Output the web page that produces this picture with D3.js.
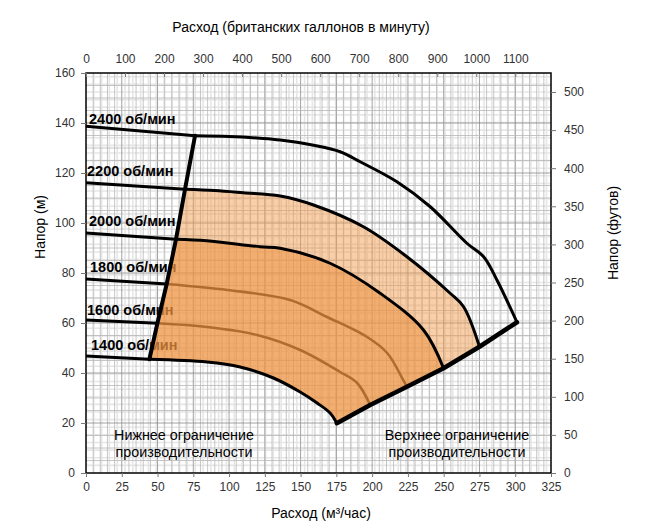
<!DOCTYPE html>
<html>
<head>
<meta charset="utf-8">
<script src="https://cdn.jsdelivr.net/npm/d3@7"></script>
<style>
  body { margin: 0; background: #fff; }
  svg text { font-family: "Liberation Sans", Arial, sans-serif; }
</style>
</head>
<body>
<div id="chart"></div>
<script>
// flow in m3/h, head in m
var flowTicks = [0, 25, 50, 75, 100, 125, 150, 175, 200, 225, 250, 275, 300, 325];
var headTicks = [0, 20, 40, 60, 80, 100, 120, 140, 160];
var gpmTicks = [0, 100, 200, 300, 400, 500, 600, 700, 800, 900, 1000, 1100];
var feetTicks = [0, 50, 100, 150, 200, 250, 300, 350, 400, 450, 500];

var speeds = ['2400 об/мин', '2200 об/мин', '2000 об/мин', '1800 об/мин', '1600 об/мин', '1400 об/мин'];

// part of each curve left of the lower limit
var left2400 = [[0, 138.7], [76.2, 134.9]];
var left2200 = [[0, 116.1], [69.2, 113.5]];
var left2000 = [[0, 96], [62.9, 93.5]];
var left1800 = [[0, 77.6], [56.4, 75.6]];
var left1600 = [[0, 61.2], [49.9, 59.9]];
var left1400 = [[0, 46.8], [44.3, 45.5]];

// working part of each curve
var rpm2400 = [[76.2, 134.9], [100, 134.6], [121.7, 133.9], [135.7, 133.2], [160, 131], [177.6, 128.5], [191.6, 124.5], [217.3, 116.5], [240.6, 106.5], [266.2, 91.9], [277.9, 86.5], [287.2, 77.2], [301.2, 60.3]];
var rpm2200 = [[69.2, 113.5], [90, 113], [110, 112.1], [135.7, 110.8], [159, 107.2], [193.9, 98.5], [224.3, 86.5], [254.5, 71.9], [263.9, 66.5], [275, 50.5]];
var rpm2000 = [[62.9, 93.5], [84.4, 92.9], [121.7, 90.5], [135.7, 89.9], [170.6, 83.9], [205.6, 71.9], [235.9, 57.2], [249.9, 41.9]];
var rpm1800 = [[56.4, 75.6], [99, 73.2], [142.7, 69.2], [168.5, 62.4], [196.5, 54.4], [210.5, 48], [221.7, 37.2], [224.3, 34.5]];
var rpm1600 = [[49.9, 59.9], [84.6, 58.4], [119.6, 55.2], [149.7, 49.2], [177.6, 40.4], [189.5, 36], [198.6, 27.2]];
var rpm1400 = [[44.3, 45.5], [84.6, 44.4], [107.7, 42.4], [131, 38], [149.7, 32.4], [161.5, 28], [170.6, 24], [175.3, 19.9]];

var lowerLimit = [[44.3, 45.5], [49.9, 59.9], [56.4, 75.6], [62.9, 93.5], [69.2, 113.5], [76.2, 134.9]];
var upperLimit = [[175.3, 19.9], [198.6, 27.2], [224.3, 34.5], [249.9, 41.9], [275, 50.5], [301.2, 60.3]];

var GPM_PER_M3H = 3.666, FT_PER_M = 3.2808;

var width = 648, height = 529;
var svg = d3.select('#chart').append('svg')
    .attr('width', width)
    .attr('height', height);

var x = d3.scaleLinear().domain([0, 325]).range([86, 551]);
var y = d3.scaleLinear().domain([0, 160]).range([473, 73]);
var xg = d3.scaleLinear().domain([0, 325 * GPM_PER_M3H]).range([86, 551]);
var yf = d3.scaleLinear().domain([0, 160 * FT_PER_M]).range([473, 73]);

// grid
var grid = svg.append('g');
d3.range(20, 325 * GPM_PER_M3H, 20).forEach(function(g) {
    grid.append('line').attr('x1', xg(g)).attr('x2', xg(g)).attr('y1', 73).attr('y2', 473)
        .attr('stroke', '#e6e6e6').attr('stroke-width', 1.6);
});
d3.range(10, 160 * FT_PER_M, 10).forEach(function(f) {
    grid.append('line').attr('y1', yf(f)).attr('y2', yf(f)).attr('x1', 86).attr('x2', 551)
        .attr('stroke', '#e6e6e6').attr('stroke-width', 1.6);
});
d3.range(5, 325, 5).forEach(function(q) {
    grid.append('line').attr('x1', x(q)).attr('x2', x(q)).attr('y1', 73).attr('y2', 473)
        .attr('stroke', q % 25 === 0 ? '#8a8a8a' : '#b8b8b8').attr('stroke-width', 0.8);
});
d3.range(5, 160, 5).forEach(function(h) {
    grid.append('line').attr('y1', y(h)).attr('y2', y(h)).attr('x1', 86).attr('x2', 551)
        .attr('stroke', h % 20 === 0 ? '#8a8a8a' : '#b8b8b8').attr('stroke-width', 0.8);
});

// speed labels (drawn under the fill)
var labelPos = [[89, 124], [87, 176], [89, 226], [90, 272], [87, 315], [91, 350]];
svg.append('g').selectAll('text')
    .data(speeds)
    .enter().append('text')
    .attr('x', function(d, i) { return labelPos[i][0]; })
    .attr('y', function(d, i) { return labelPos[i][1]; })
    .attr('font-size', 14.5)
    .attr('font-weight', 'bold')
    .text(function(d) { return d; });

var smooth = d3.line()
    .x(function(d) { return x(d[0]); })
    .y(function(d) { return y(d[1]); })
    .curve(d3.curveCatmullRom.alpha(0.5));
var straight = d3.line()
    .x(function(d) { return x(d[0]); })
    .y(function(d) { return y(d[1]); });

// inner curves, seen through the fill
[rpm1800, rpm1600].forEach(function(c) {
    svg.append('path').attr('d', smooth(c))
        .attr('fill', 'none').attr('stroke', '#000').attr('stroke-width', 2.6);
});

function joinPaths(parts) {
    return parts.map(function(p, i) { return i ? p.replace(/^M/, 'L') : p; }).join('') + 'Z';
}
function rev(a) { return a.slice().reverse(); }

// light zone between 2000 and 2200
svg.append('path')
    .attr('d', joinPaths([
        straight(lowerLimit.slice(3, 5)),
        smooth(rpm2200),
        straight(rev(upperLimit.slice(3, 5))),
        smooth(rev(rpm2000))
    ]))
    .attr('fill', '#f39a48').attr('fill-opacity', 0.47).attr('stroke', 'none');

// dark zone between 1400 and 2000
svg.append('path')
    .attr('d', joinPaths([
        straight(lowerLimit.slice(0, 4)),
        smooth(rpm2000),
        straight(rev(upperLimit.slice(0, 4))),
        smooth(rev(rpm1400))
    ]))
    .attr('fill', '#ee9040').attr('fill-opacity', 0.74).attr('stroke', 'none');

// bold curves
[rpm2400, rpm2200, rpm2000, rpm1400].forEach(function(c) {
    svg.append('path').attr('d', smooth(c))
        .attr('fill', 'none').attr('stroke', '#000').attr('stroke-width', 3)
        .attr('stroke-linejoin', 'round');
});
[left2400, left2200, left2000, left1800, left1600, left1400].forEach(function(c) {
    svg.append('path').attr('d', straight(c))
        .attr('fill', 'none').attr('stroke', '#000').attr('stroke-width', 2.8);
});
svg.append('path').attr('d', straight(lowerLimit))
    .attr('fill', 'none').attr('stroke', '#000').attr('stroke-width', 4)
    .attr('stroke-linecap', 'round');
svg.append('path').attr('d', straight(upperLimit))
    .attr('fill', 'none').attr('stroke', '#000').attr('stroke-width', 4.5)
    .attr('stroke-linecap', 'round').attr('stroke-linejoin', 'round');

// frame
svg.append('rect').attr('x', 86).attr('y', 73).attr('width', 465).attr('height', 400)
    .attr('fill', 'none').attr('stroke', '#000').attr('stroke-width', 1.5);

// axes
function styleAxis(g) {
    g.select('.domain').remove();
    g.selectAll('.tick line').attr('stroke', '#777');
    g.selectAll('.tick text').attr('fill', '#333').attr('font-size', 12)
        .attr('font-family', '"Liberation Sans", Arial, sans-serif');
}
svg.append('g').attr('transform', 'translate(0,473)')
    .call(d3.axisBottom(x).tickValues(flowTicks).tickSize(4).tickPadding(5))
    .call(styleAxis);
svg.append('g').attr('transform', 'translate(86,0)')
    .call(d3.axisLeft(y).tickValues(headTicks).tickSize(5).tickPadding(6))
    .call(styleAxis);
svg.append('g').attr('transform', 'translate(0,73)')
    .call(d3.axisTop(xg).tickValues(gpmTicks).tickFormat(d3.format('d')).tickSize(-4).tickPadding(10))
    .call(styleAxis);
svg.append('g').attr('transform', 'translate(551,0)')
    .call(d3.axisRight(yf).tickValues(feetTicks).tickSize(5).tickPadding(8))
    .call(styleAxis);
svg.selectAll('.tick line').attr('stroke-width', 1);

// titles
svg.append('text').attr('x', 301).attr('y', 32).attr('text-anchor', 'middle')
    .attr('font-size', 14).text('Расход (британских галлонов в минуту)');
svg.append('text').attr('x', 321).attr('y', 518).attr('text-anchor', 'middle')
    .attr('font-size', 14).text('Расход (м³/час)');
svg.append('text').attr('transform', 'translate(45,227) rotate(-90)').attr('text-anchor', 'middle')
    .attr('font-size', 14).text('Напор (м)');
svg.append('text').attr('transform', 'translate(618,233) rotate(-90)').attr('text-anchor', 'middle')
    .attr('font-size', 14).text('Напор (футов)');

// zone notes
var notes = [
    { x: 184, lines: ['Нижнее ограничение', 'производительности'] },
    { x: 457, lines: ['Верхнее ограничение', 'производительности'] }
];
notes.forEach(function(n) {
    var t = svg.append('text').attr('text-anchor', 'middle').attr('font-size', 14.3);
    n.lines.forEach(function(s, i) {
        t.append('tspan').attr('x', n.x).attr('y', 440 + i * 17).text(s);
    });
});
</script>
</body>
</html>
